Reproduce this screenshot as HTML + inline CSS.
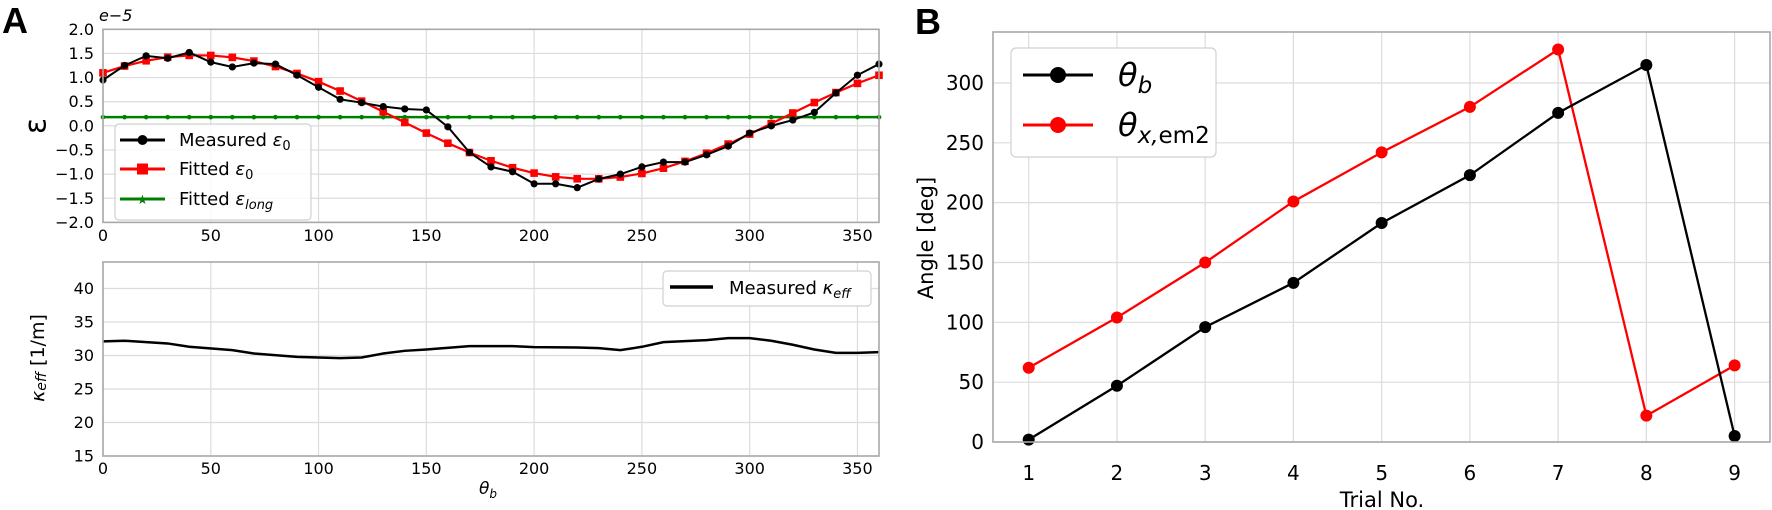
<!DOCTYPE html>
<html><head><meta charset="utf-8"><style>
html,body{margin:0;padding:0;background:#fff;}
svg{display:block;font-family:"DejaVu Sans","Liberation Sans",sans-serif;}
</style></head><body>
<svg id="s" width="1772" height="510" viewBox="0 0 1772 510" xmlns="http://www.w3.org/2000/svg">
<g id="grid" stroke="#dcdcdc" stroke-width="1.2" fill="none"></g>
<g id="data"></g>
<g fill="none" stroke="#a8a8a8" stroke-width="1.6">
<rect x="103" y="29.3" width="776" height="193.1"/>
<rect x="103" y="262" width="776" height="194"/>
<rect x="993" y="32" width="777" height="410" />
</g>
<!-- Labels -->
<text x="2" y="33" font-size="36" font-weight="bold" font-family="Liberation Sans,sans-serif">A</text>
<text x="915" y="34" font-size="36" font-weight="bold" font-family="Liberation Sans,sans-serif">B</text>
<text x="99" y="21" font-size="16" font-style="italic">e−5</text>
<g font-size="16" text-anchor="end" dominant-baseline="central">
<text x="94" y="29.3">2.0</text><text x="94" y="53.4">1.5</text><text x="94" y="77.6">1.0</text><text x="94" y="101.7">0.5</text><text x="94" y="125.9">0.0</text><text x="94" y="150">−0.5</text><text x="94" y="174.2">−1.0</text><text x="94" y="198.3">−1.5</text><text x="94" y="222.4">−2.0</text>
<text x="94" y="288.5">40</text><text x="94" y="322">35</text><text x="94" y="355.5">30</text><text x="94" y="389">25</text><text x="94" y="422.5">20</text><text x="94" y="456">15</text>
</g>
<g font-size="16" text-anchor="middle">
<text x="103" y="241">0</text><text x="210.8" y="241">50</text><text x="318.6" y="241">100</text><text x="426.3" y="241">150</text><text x="534.1" y="241">200</text><text x="641.9" y="241">250</text><text x="749.7" y="241">300</text><text x="857.4" y="241">350</text>
<text x="103" y="474">0</text><text x="210.8" y="474">50</text><text x="318.6" y="474">100</text><text x="426.3" y="474">150</text><text x="534.1" y="474">200</text><text x="641.9" y="474">250</text><text x="749.7" y="474">300</text><text x="857.4" y="474">350</text>
<text x="488" y="494" font-size="17" font-style="italic">θ<tspan font-size="12" dy="4">b</tspan></text>
</g>
<text x="36" y="126" font-size="30" text-anchor="middle" dominant-baseline="central" transform="rotate(-90 36 126)">ε</text>
<text x="38" y="358" font-size="19" text-anchor="middle" dominant-baseline="central" transform="rotate(-90 38 358)"><tspan font-style="italic">κ</tspan><tspan font-style="italic" font-size="14" dy="4">eff</tspan><tspan dy="-4"> [1/m]</tspan></text>
<g font-size="20" text-anchor="end" dominant-baseline="central">
<text x="984" y="442">0</text><text x="984" y="382.2">50</text><text x="984" y="322.3">100</text><text x="984" y="262.5">150</text><text x="984" y="202.7">200</text><text x="984" y="142.8">250</text><text x="984" y="83">300</text>
</g>
<g font-size="20" text-anchor="middle">
<text x="1028.7" y="480">1</text><text x="1116.9" y="480">2</text><text x="1205.2" y="480">3</text><text x="1293.4" y="480">4</text><text x="1381.7" y="480">5</text><text x="1469.9" y="480">6</text><text x="1558.1" y="480">7</text><text x="1646.4" y="480">8</text><text x="1734.6" y="480">9</text>
</g>
<text x="1382" y="507" font-size="21" text-anchor="middle">Trial No.</text>
<text x="926" y="238" font-size="21" text-anchor="middle" dominant-baseline="central" transform="rotate(-90 926 238)">Angle [deg]</text>
<!-- legends -->
<rect x="115" y="124" width="196" height="96" rx="4" fill="#fff" fill-opacity="0.85" stroke="#d0d0d0" stroke-width="1.2"/>
<line x1="120" y1="140" x2="165" y2="140" stroke="#000" stroke-width="3"/><circle cx="142.5" cy="140" r="5" fill="#000"/>
<line x1="120" y1="169" x2="165" y2="169" stroke="#f00" stroke-width="3"/><rect x="137" y="163.5" width="11" height="11" fill="#f00"/>
<line x1="120" y1="199" x2="165" y2="199" stroke="#008000" stroke-width="3"/><text x="142.5" y="204" font-size="13" fill="#008000" text-anchor="middle">★</text>
<g font-size="18">
<text x="179" y="146">Measured <tspan font-style="italic">ε</tspan><tspan font-size="13" dy="4">0</tspan></text>
<text x="179" y="175">Fitted <tspan font-style="italic">ε</tspan><tspan font-size="13" dy="4">0</tspan></text>
<text x="179" y="205">Fitted <tspan font-style="italic">ε</tspan><tspan font-size="13" font-style="italic" dy="4">long</tspan></text>
</g>
<rect x="663" y="271" width="208" height="35" rx="4" fill="#fff" stroke="#d0d0d0" stroke-width="1.2"/>
<line x1="670" y1="287" x2="713" y2="287" stroke="#000" stroke-width="3.5"/>
<text x="729" y="294" font-size="18">Measured <tspan font-style="italic">κ</tspan><tspan font-style="italic" font-size="13" dy="4">eff</tspan></text>
<rect x="1011" y="48" width="205" height="109" rx="5" fill="#fff" stroke="#d0d0d0" stroke-width="1.2"/>
<line x1="1023" y1="75" x2="1093" y2="75" stroke="#000" stroke-width="3"/><circle cx="1058" cy="75" r="8" fill="#000"/>
<line x1="1023" y1="125" x2="1093" y2="125" stroke="#f00" stroke-width="3"/><circle cx="1058" cy="125" r="8" fill="#f00"/>
<text x="1118" y="86" font-size="32" font-style="italic">θ<tspan font-size="23" dy="7">b</tspan></text>
<text x="1118" y="136" font-size="32" font-style="italic">θ<tspan font-size="23" dy="7">x,</tspan><tspan font-size="23" font-style="normal">em2</tspan></text>
</svg>
<script>
const NS="http://www.w3.org/2000/svg";
const g=document.getElementById('grid'),d=document.getElementById('data');
function el(p,t,a){const e=document.createElementNS(NS,t);for(const k in a)e.setAttribute(k,a[k]);p.appendChild(e);return e;}
const ax=v=>103+v*776/360;
const ey=v=>29.3+(2-v)*48.28;
const ky=v=>456-(v-15)*6.7;
const bx=t=>1028.7+(t-1)*88.24;
const by=v=>442-v*1.1967;
for(let v=0;v<=350;v+=50){el(g,'line',{x1:ax(v),x2:ax(v),y1:29.3,y2:222.4});el(g,'line',{x1:ax(v),x2:ax(v),y1:262,y2:456});}
for(let v=-2;v<=2;v+=0.5)el(g,'line',{x1:103,x2:879,y1:ey(v),y2:ey(v)});
for(let v=15;v<=40;v+=5)el(g,'line',{x1:103,x2:879,y1:ky(v),y2:ky(v)});
for(let t=1;t<=9;t++)el(g,'line',{x1:bx(t),x2:bx(t),y1:32,y2:442});
for(let v=0;v<=300;v+=50)el(g,'line',{x1:993,x2:1770,y1:by(v),y2:by(v)});
const meas=[0.95,1.25,1.45,1.4,1.52,1.32,1.22,1.3,1.28,1.05,0.8,0.55,0.48,0.4,0.35,0.33,-0.02,-0.55,-0.85,-0.95,-1.2,-1.2,-1.28,-1.1,-1.0,-0.85,-0.75,-0.75,-0.6,-0.42,-0.15,0.0,0.12,0.28,0.68,1.05,1.28];
const fit=[];for(let i=0;i<=36;i++){fit.push(0.2+1.27*Math.cos((i*10-45)*Math.PI/180)-0.05*i/36);}
// green
let pts=[];for(let i=0;i<=36;i++)pts.push(ax(i*10)+','+ey(0.18));
el(d,'polyline',{points:pts.join(' '),fill:'none',stroke:'#008000','stroke-width':2.5});
for(let i=0;i<=36;i++){const x=ax(i*10),y=ey(0.18);el(d,'circle',{cx:x,cy:y,r:2.3,fill:'#008000'});}
pts=fit.map((v,i)=>ax(i*10)+','+ey(v));
el(d,'polyline',{points:pts.join(' '),fill:'none',stroke:'#f00','stroke-width':2.2});
fit.forEach((v,i)=>el(d,'rect',{x:ax(i*10)-3.8,y:ey(v)-3.8,width:7.6,height:7.6,fill:'#f00'}));
pts=meas.map((v,i)=>ax(i*10)+','+ey(v));
el(d,'polyline',{points:pts.join(' '),fill:'none',stroke:'#000','stroke-width':2});
meas.forEach((v,i)=>el(d,'circle',{cx:ax(i*10),cy:ey(v),r:3.6,fill:'#000'}));
const kap=[[0,32.1],[10,32.2],[30,31.8],[40,31.3],[60,30.8],[70,30.3],[90,29.8],[110,29.6],[120,29.7],[130,30.3],[140,30.7],[150,30.9],[170,31.4],[190,31.4],[200,31.25],[220,31.2],[230,31.1],[240,30.8],[250,31.3],[260,32.0],[280,32.3],[290,32.6],[300,32.6],[310,32.2],[320,31.6],[330,30.9],[340,30.4],[350,30.4],[360,30.5]];
el(d,'polyline',{points:kap.map(p=>ax(p[0])+','+ky(p[1])).join(' '),fill:'none',stroke:'#000','stroke-width':2.5});
const B=[2,47,96,133,183,223,275,315,5],R=[62,104,150,201,242,280,328,22,64];
[[R,'#f00'],[B,'#000']].forEach(([a,c])=>{el(d,'polyline',{points:a.map((v,i)=>bx(i+1)+','+by(v)).join(' '),fill:'none',stroke:c,'stroke-width':2.3});a.forEach((v,i)=>el(d,'circle',{cx:bx(i+1),cy:by(v),r:6,fill:c}));});
</script>
</body></html>
